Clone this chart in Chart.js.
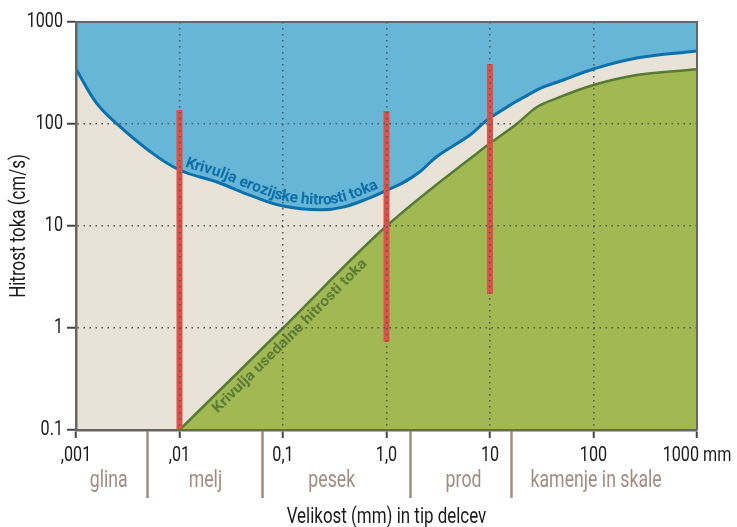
<!DOCTYPE html>
<html><head><meta charset="utf-8">
<script src="https://cdn.jsdelivr.net/npm/chart.js@4.4.0/dist/chart.umd.min.js"></script>
<style>html,body{margin:0;padding:0;background:#fff;}</style>
</head><body>
<canvas id="c" width="737" height="527"></canvas>
<script>
// ---- data ----
const xTickValues = [0.001, 0.01, 0.1, 1, 10, 100, 1000];
const xTickLabels = [',001', ',01', '0,1', '1,0', '10', '100', '1000 mm'];
const yTickValues = [0.1, 1, 10, 100, 1000];
const yTickLabels = ['0.1', '1', '10', '100', '1000'];

const erosionX = [0.001, 0.00158, 0.00249, 0.00497, 0.01, 0.023, 0.05, 0.1, 0.23, 0.38, 0.69, 1, 1.45, 2.1, 3.05, 6.4, 10, 28.2, 51, 100, 261, 1000];
const erosionY = [346, 160, 100, 55.6, 35.4, 27, 19.7, 15.7, 14.4, 15.3, 18.9, 22.4, 26.6, 34, 47.8, 78, 115, 215, 270, 346, 443, 520];

const depositionX = [0.01, 0.1, 1, 10, 18.1, 28.2, 44, 100, 261, 1000];
const depositionY = [0.1, 1, 10, 64.6, 100, 146, 178.6, 241, 302, 344];

const sampleSizes = [0.01, 1, 10];
const sampleMin = [0.1, 0.73, 2.15];
const sampleMax = [137, 134, 387];

const sizeBounds = [0.0048, 0.062, 1.7, 16];
const sizeClasses = ['glina', 'melj', 'pesek', 'prod', 'kamenje in skale'];
const sizeClassCenters = [0.00207, 0.0178, 0.296, 5.55, 106];

const erosionLabel = 'Krivulja erozijske hitrosti toka';
const depositionLabel = 'Krivulja usedalne hitrosti toka';

// ---- styling ----
const FONT = "Roboto, 'Liberation Sans', sans-serif";
let SX = 0.77; // horizontal condensing of text
const C = {
  beige: '#e9e2d7', blue: '#67b5d7', blueLine: '#0a71ad', green: '#a2b853', greenLine: '#557a34',
  red: '#d9534a', grid: '#555', axis: '#666', cat: '#a08c82', blueText: '#0e6fa8', greenText: '#5a7c37'
};

const canvas = document.getElementById('c');
const ctx0 = canvas.getContext('2d');
const P = CanvasRenderingContext2D.prototype;
ctx0.fillText = function (t, x, y, mw) {
  this.save(); this.translate(x, y); this.scale(SX, 1);
  if (mw !== undefined) P.fillText.call(this, t, 0, 0, mw / SX); else P.fillText.call(this, t, 0, 0);
  this.restore();
};
ctx0.measureText = function (t) {
  const m = P.measureText.call(this, t);
  return {width: m.width * SX, actualBoundingBoxAscent: m.actualBoundingBoxAscent, actualBoundingBoxDescent: m.actualBoundingBoxDescent,
    actualBoundingBoxLeft: m.actualBoundingBoxLeft * SX, actualBoundingBoxRight: m.actualBoundingBoxRight * SX,
    fontBoundingBoxAscent: m.fontBoundingBoxAscent, fontBoundingBoxDescent: m.fontBoundingBoxDescent};
};

function pts(xs, ys) { return xs.map((x, i) => ({x: x, y: ys[i]})); }

const datasets = [];
sampleSizes.forEach((s, i) => {
  datasets.push({data: [{x: s, y: sampleMin[i]}, {x: s, y: sampleMax[i]}], borderColor: C.red, borderWidth: 6,
    borderCapStyle: 'butt', pointRadius: 0, fill: false, order: 0});
});
datasets.push({data: pts(erosionX, erosionY), borderColor: C.blueLine, borderWidth: 3, backgroundColor: C.blue,
  fill: 'end', pointRadius: 0, tension: 0.4, order: 2});
datasets.push({data: pts(depositionX, depositionY), borderColor: C.greenLine, borderWidth: 2.5, backgroundColor: C.green,
  fill: 'start', pointRadius: 0, cubicInterpolationMode: 'monotone', order: 2});

function labelFor(values, labels) {
  return function (v) {
    const idx = values.findIndex(t => Math.abs(Math.log10(t) - Math.log10(v)) < 1e-6);
    return idx >= 0 ? labels[idx] : '';
  };
}

function curvePixels(chart, idx) {
  const d = chart.getDatasetMeta(idx).data; const out = [];
  for (let i = 0; i < d.length - 1; i++) {
    const a = d[i], b = d[i + 1];
    const p1x = a.cp2x ?? a.x, p1y = a.cp2y ?? a.y, p2x = b.cp1x ?? b.x, p2y = b.cp1y ?? b.y;
    for (let k = 0; k < 24; k++) {
      const t = k / 24, u = 1 - t;
      out.push({x: u * u * u * a.x + 3 * u * u * t * p1x + 3 * u * t * t * p2x + t * t * t * b.x,
        y: u * u * u * a.y + 3 * u * u * t * p1y + 3 * u * t * t * p2y + t * t * t * b.y});
    }
  }
  out.push({x: d[d.length - 1].x, y: d[d.length - 1].y});
  return out;
}

function textOnPath(ctx, p, text, startX, endX, offset, size, weight, color) {
  const cum = [0];
  for (let i = 1; i < p.length; i++) cum.push(cum[i - 1] + Math.hypot(p[i].x - p[i - 1].x, p[i].y - p[i - 1].y));
  function sAtX(x) {
    for (let i = 1; i < p.length; i++) {
      if (x <= p[i].x) { const t = (x - p[i - 1].x) / ((p[i].x - p[i - 1].x) || 1); return cum[i - 1] + t * (cum[i] - cum[i - 1]); }
    }
    return cum[cum.length - 1];
  }
  function at(s) {
    for (let i = 1; i < p.length; i++) {
      if (s <= cum[i] || i === p.length - 1) {
        const seg = cum[i] - cum[i - 1] || 1; const t = (s - cum[i - 1]) / seg;
        const j0 = Math.max(0, i - 3), j1 = Math.min(p.length - 1, i + 2);
        return {x: p[i - 1].x + t * (p[i].x - p[i - 1].x), y: p[i - 1].y + t * (p[i].y - p[i - 1].y),
          a: Math.atan2(p[j1].y - p[j0].y, p[j1].x - p[j0].x)};
      }
    }
  }
  const s0 = sAtX(startX), s1 = sAtX(endX);
  const saved = SX;
  SX = 1;
  ctx.font = weight + ' ' + size + 'px ' + FONT;
  let total = 0; for (const ch of text) total += ctx.measureText(ch).width;
  SX = (s1 - s0) / total;
  ctx.fillStyle = color; ctx.textAlign = 'center'; ctx.textBaseline = 'alphabetic';
  let s = s0;
  for (const ch of text) {
    const w = ctx.measureText(ch).width;
    const q = at(s + w / 2);
    const nx = Math.sin(q.a), ny = -Math.cos(q.a);
    ctx.save();
    ctx.translate(q.x + nx * offset, q.y + ny * offset);
    ctx.rotate(q.a);
    ctx.fillText(ch, 0, 0);
    ctx.restore();
    s += w;
  }
  SX = saved;
}

const decor = {
  id: 'decor',
  beforeDatasetsDraw(chart) {
    const {ctx, chartArea: a} = chart;
    ctx.save(); ctx.fillStyle = C.beige; ctx.fillRect(a.left, a.top, a.right - a.left, a.bottom - a.top); ctx.restore();
  },
  afterDatasetsDraw(chart) {
    const {ctx} = chart;
    ctx.save();
    textOnPath(ctx, curvePixels(chart, 3), erosionLabel, 183, 381, 5.5, 15.5, 'bold', C.blueText);
    textOnPath(ctx, curvePixels(chart, 4), depositionLabel, 207, 357, -15, 14.5, 'bold', C.greenText);
    ctx.restore();
  },
  afterDraw(chart) {
    const {ctx, chartArea: a} = chart; const xs = chart.scales.x;
    ctx.save();
    ctx.strokeStyle = C.axis; ctx.lineWidth = 2;
    ctx.beginPath(); ctx.moveTo(a.left, a.top); ctx.lineTo(a.right, a.top); ctx.lineTo(a.right, a.bottom); ctx.stroke();
    ctx.strokeStyle = C.cat; ctx.lineWidth = 2.5;
    sizeBounds.forEach(b => {
      const x = Math.round(xs.getPixelForValue(b)) + 0.5;
      ctx.beginPath(); ctx.moveTo(x, a.bottom + 1); ctx.lineTo(x, a.bottom + 68); ctx.stroke();
    });
    ctx.fillStyle = C.cat; ctx.font = '23px ' + FONT; ctx.textAlign = 'center'; ctx.textBaseline = 'alphabetic';
    sizeClasses.forEach((t, i) => ctx.fillText(t, xs.getPixelForValue(sizeClassCenters[i]), a.bottom + 57));
    ctx.restore();
  }
};

new Chart(canvas, {
  type: 'line',
  data: {datasets: datasets},
  plugins: [decor],
  options: {
    responsive: false, animation: false, devicePixelRatio: 1,
    layout: {padding: {left: 0, right: 40, top: 22, bottom: 0}},
    plugins: {legend: {display: false}, tooltip: {enabled: false}},
    scales: {
      x: {
        type: 'logarithmic', min: 0.001, max: 1000,
        afterBuildTicks: s => { s.ticks = xTickValues.map(v => ({value: v})); },
        afterFit: s => { s.height = 97; },
        ticks: {callback: labelFor(xTickValues, xTickLabels), color: '#1a1a1a', font: {family: FONT, size: 21}, padding: 5, maxRotation: 0, autoSkip: false},
        grid: {color: C.grid, lineWidth: 1.5, tickLength: 8, tickColor: '#444', tickWidth: 2, tickBorderDash: [], z: 1},
        border: {display: true, color: C.axis, width: 2.5, dash: [1.5, 4.5], z: 2},
        title: {display: true, text: 'Velikost (mm) in tip delcev', color: '#1a1a1a', font: {family: FONT, size: 22, lineHeight: 1}, padding: {top: 0, bottom: -1}}
      },
      y: {
        type: 'logarithmic', min: 0.1, max: 1000,
        afterBuildTicks: s => { s.ticks = yTickValues.map(v => ({value: v})); },
        afterFit: s => { s.width = 76; },
        ticks: {callback: labelFor(yTickValues, yTickLabels), color: '#1a1a1a', font: {family: FONT, size: 21}, padding: 4, autoSkip: false},
        grid: {color: C.grid, lineWidth: 1.5, tickLength: 9, tickColor: '#444', tickWidth: 2, tickBorderDash: [], z: 1},
        border: {display: true, color: C.axis, width: 2.5, dash: [1.5, 4.5], z: 2},
        title: {display: true, text: 'Hitrost toka (cm/s)', color: '#1a1a1a', font: {family: FONT, size: 22, lineHeight: 1}, padding: {top: 8.5, bottom: 0}}
      }
    }
  }
});
</script>
</body></html>
